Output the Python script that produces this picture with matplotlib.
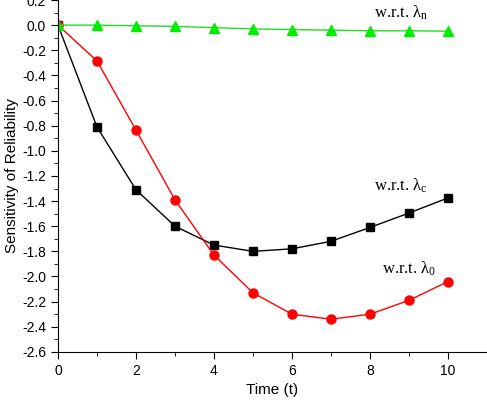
import matplotlib
matplotlib.use("Agg")
import matplotlib.pyplot as plt
from matplotlib.ticker import MultipleLocator

# time points
t = [0, 1, 2, 3, 4, 5, 6, 7, 8, 9, 10]

# sensitivity w.r.t. lambda_c (black squares)
sens_c = [0.0, -0.81, -1.31, -1.60, -1.75, -1.80, -1.78, -1.72, -1.61, -1.495, -1.375]
# sensitivity w.r.t. lambda_0 (red circles)
sens_0 = [0.0, -0.285, -0.835, -1.39, -1.83, -2.13, -2.30, -2.34, -2.30, -2.19, -2.04]
# sensitivity w.r.t. lambda_n (green triangles)
sens_n = [0.0, 0.0, -0.005, -0.01, -0.02, -0.03, -0.035, -0.04, -0.045, -0.045, -0.048]

plt.rcParams['font.family'] = ['Liberation Sans', 'DejaVu Sans']
plt.rcParams['mathtext.fontset'] = 'custom'
plt.rcParams['mathtext.rm'] = 'Liberation Serif'
plt.rcParams['mathtext.it'] = 'Liberation Serif'

fig = plt.figure(figsize=(4.87, 4.04), dpi=100)
ax = fig.add_axes([0.119, 0.129, 0.881, 0.871])

ax.plot(t, sens_c, color='black', lw=1, marker='s', ms=6)
ax.plot(t, sens_0, color='red', lw=1, marker='o', ms=6.5)
ax.plot(t, sens_n, color='#22dd22', lw=1, marker='^', ms=7, mfc='#00ee00', mec='#00ee00')

ax.set_xlim(0, 11)
ax.set_ylim(-2.6, 0.2)
ax.xaxis.set_major_locator(MultipleLocator(2))
ax.xaxis.set_minor_locator(MultipleLocator(1))
ax.yaxis.set_major_locator(MultipleLocator(0.2))
ax.yaxis.set_minor_locator(MultipleLocator(0.1))
ax.set_xticks([0, 2, 4, 6, 8, 10])
ax.yaxis.set_major_formatter(plt.FuncFormatter(lambda v, p: '%.1f' % v))

for s in ['top', 'right']:
    ax.spines[s].set_visible(False)
ax.tick_params(which='major', direction='out', length=5, labelsize=10)
ax.tick_params(which='minor', direction='out', length=3)

ax.set_xlabel('Time (t)', fontsize=11)
ax.set_ylabel('Sensitivity of Reliability', fontsize=11, labelpad=2)

serif = ['Liberation Serif', 'DejaVu Serif']
ax.text(8.1, 0.06, r'w.r.t. $\mathrm{\lambda}_\mathrm{n}$', family=serif, fontsize=12)
ax.text(8.1, -1.32, r'w.r.t. $\mathrm{\lambda}_\mathrm{c}$', family=serif, fontsize=12)
ax.text(8.3, -1.98, r'w.r.t. $\mathrm{\lambda}_\mathrm{0}$', family=serif, fontsize=12)

fig.savefig('out.png', dpi=100)
